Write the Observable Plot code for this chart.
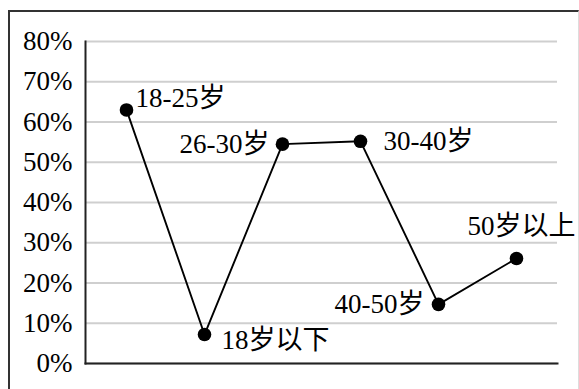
<!DOCTYPE html>
<html>
<head>
<meta charset="utf-8">
<script src="https://cdn.jsdelivr.net/npm/d3@7"></script>
<script src="https://cdn.jsdelivr.net/npm/@observablehq/plot@0.6"></script>
<style>
  html, body { margin: 0; padding: 0; background: #fff; }
  #wrap { position: relative; width: 579px; height: 389px; overflow: hidden; }
  #border { position: absolute; left: 8px; top: 10px; width: 568px; height: 400px;
            border-top: 2px solid #333; border-left: 2px solid #333; border-right: 1px solid #ddd; }
  #chart { position: absolute; left: 0; top: 0; }
  #chart svg text { font-family: "Liberation Serif", "Noto Sans CJK SC", serif !important; font-size: 27px !important; }
</style>
</head>
<body>
<div id="wrap"><div id="border"></div><div id="chart"></div></div>
<script>
const categories = ["18-25岁", "18岁以下", "26-30岁", "30-40岁", "40-50岁", "50岁以上"];
const values = [0.63, 0.072, 0.545, 0.552, 0.147, 0.261];
const yTicks = [0, 0.1, 0.2, 0.3, 0.4, 0.5, 0.6, 0.7, 0.8];

const data = categories.map((c, i) => ({name: c, value: values[i]}));
const lbl = (name, opts) => Plot.text(data.filter(d => d.name === name),
  {x: "name", y: "value", text: "name", fontSize: 27, fill: "#000", ...opts});

const chart = Plot.plot({
  width: 579,
  height: 389,
  marginLeft: 85,
  marginRight: 22,
  marginTop: 41,
  marginBottom: 26,
  style: {fontSize: "27px", color: "#000", background: "transparent"},
  x: {type: "band", domain: categories, padding: 0, axis: null},
  y: {domain: [0, 0.8], label: null},
  marks: [
    Plot.gridY(yTicks, {stroke: "#cfcfcf", strokeOpacity: 1, strokeWidth: 2}),
    Plot.axisY(yTicks, {tickSize: 0, tickPadding: 13, label: null, tickFormat: d => Math.round(d * 100) + "%", fontSize: 27, fill: "#000"}),
    Plot.frame({anchor: "left", stroke: "#222", strokeWidth: 2}),
    Plot.frame({anchor: "bottom", stroke: "#222", strokeWidth: 2}),
    Plot.line(data, {x: "name", y: "value", stroke: "#000", strokeWidth: 1.9}),
    Plot.dot(data, {x: "name", y: "value", r: 6.8, fill: "#000", stroke: "none"}),
    lbl("18-25岁", {textAnchor: "start", dx: 9, dy: -12}),
    lbl("18岁以下", {textAnchor: "start", dx: 17, dy: 6}),
    lbl("26-30岁", {textAnchor: "end", dx: -13, dy: 0}),
    lbl("30-40岁", {textAnchor: "start", dx: 23, dy: 0}),
    lbl("40-50岁", {textAnchor: "end", dx: -14, dy: 0}),
    lbl("50岁以上", {textAnchor: "middle", dx: 5, dy: -32})
  ]
});
document.getElementById("chart").appendChild(chart);
</script>
</body>
</html>
